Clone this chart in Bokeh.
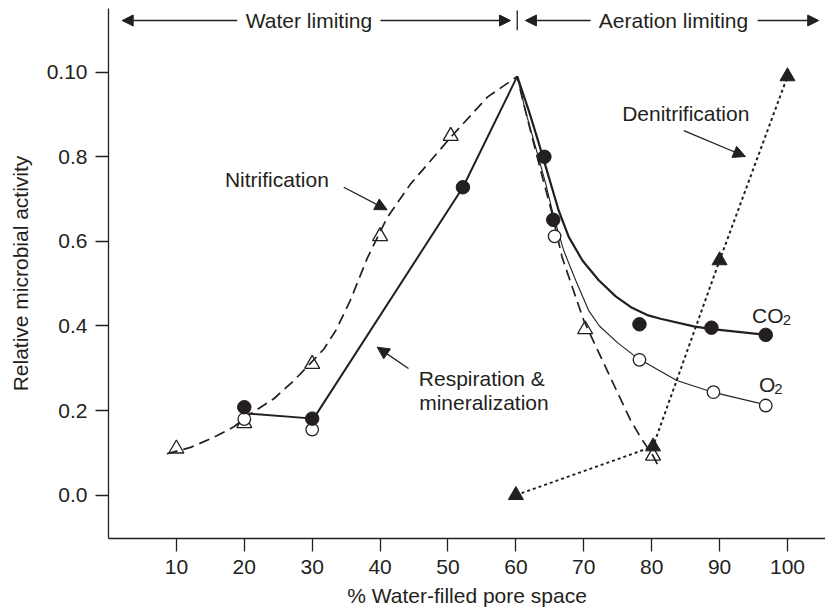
from bokeh.plotting import figure
from bokeh.models import Range1d, FixedTicker, Label, Arrow, NormalHead
from bokeh.embed import file_html
from bokeh.resources import INLINE

FONT = "Liberation Sans"
INK = "#231f20"

# ---- axis ticks ----
x_ticks = [10, 20, 30, 40, 50, 60, 70, 80, 90, 100]
x_tick_labels = ["10", "20", "30", "40", "50", "60", "70", "80", "90", "100"]
y_ticks = [0.0, 0.2, 0.4, 0.6, 0.8, 1.0]
y_tick_labels = ["0.0", "0.2", "0.4", "0.6", "0.8", "0.10"]

# ---- Nitrification (open triangles, dashed curve) ----
nitr_x = [10, 20, 30, 40, 50.4, 70.2, 80.2]
nitr_y = [0.11, 0.17, 0.31, 0.612, 0.849, 0.392, 0.093]
nitr_curve_x = [8.6, 12.1, 15.5, 18.4, 20.9, 24.35, 27.3, 29.7, 31.7, 33.5, 35.6, 38.1,
                41.0, 44.5, 50.4, 55.8, 60.2, 60.9, 62.4, 63.9, 65.35, 66.8, 68.3, 70.0,
                73.9, 76.9, 78.35, 80.2, 81.2]
nitr_curve_y = [0.098, 0.113, 0.137, 0.161, 0.192, 0.228, 0.271, 0.311, 0.345, 0.39, 0.46, 0.56,
                0.655, 0.736, 0.846, 0.941, 0.99, 0.941, 0.846, 0.752, 0.665, 0.563, 0.492, 0.413,
                0.279, 0.177, 0.137, 0.093, 0.062]

# ---- Respiration & mineralization (filled circles, solid line) ----
resp_x = [20, 30, 52.2]
resp_y = [0.208, 0.181, 0.728]
resp_line_x = [20.6, 30.2, 52.2, 60.2]
resp_line_y = [0.193, 0.181, 0.728, 0.99]

# ---- CO2 (filled circles, thick curve) ----
co2_x = [64.2, 65.5, 78.2, 88.8, 96.8]
co2_y = [0.80, 0.651, 0.404, 0.396, 0.379]
co2_curve_x = [60.2, 61.9, 63.4, 64.85, 66.3, 67.8, 69.8, 72.2, 74.7, 77.1, 79.5, 81.3,
               86.2, 88.6, 96.8]
co2_curve_y = [0.99, 0.909, 0.831, 0.752, 0.673, 0.61, 0.555, 0.508, 0.47, 0.443, 0.425, 0.417,
               0.399, 0.393, 0.379]

# ---- O2 (open circles, thin curve) ----
o2_x = [20, 30, 65.7, 78.2, 89.1, 96.8]
o2_y = [0.18, 0.155, 0.612, 0.32, 0.2435, 0.212]
o2_curve_x = [60.2, 61.4, 62.9, 64.4, 65.6, 67.05, 68.8, 70.7, 72.3, 75.0, 78.0, 83.7,
              89.1, 96.7]
o2_curve_y = [0.99, 0.909, 0.823, 0.736, 0.657, 0.578, 0.508, 0.437, 0.40, 0.36, 0.323, 0.271,
              0.243, 0.214]

# ---- Denitrification (filled triangles, dotted line) ----
denit_x = [60, 80.2, 90, 100]
denit_y = [0.0, 0.115, 0.555, 0.99]

p = figure(width=825, height=610,
           x_range=Range1d(0, 105.6), y_range=Range1d(-0.1024, 1.1506),
           output_backend="svg", toolbar_location=None)
p.min_border = 0
p.min_border_left = 108
p.min_border_right = 0
p.min_border_top = 8
p.min_border_bottom = 72
p.outline_line_color = None
p.xgrid.visible = False
p.ygrid.visible = False
p.background_fill_color = "white"
p.border_fill_color = "white"

for ax in (p.xaxis[0], p.yaxis[0]):
    ax.axis_line_color = INK
    ax.axis_line_width = 1.3
    ax.major_tick_line_color = INK
    ax.major_tick_line_width = 1.3
    ax.major_tick_out = 13
    ax.major_tick_in = 0
    ax.minor_tick_line_color = None
    ax.major_label_text_font = FONT
    ax.major_label_text_font_size = "21px"
    ax.major_label_text_color = INK
    ax.axis_label_text_font = FONT
    ax.axis_label_text_font_size = "21px"
    ax.axis_label_text_font_style = "normal"
    ax.axis_label_text_color = INK

p.xaxis.ticker = FixedTicker(ticks=x_ticks)
p.xaxis.major_label_overrides = {t: s for t, s in zip(x_ticks, x_tick_labels)}
p.xaxis.major_label_standoff = 8
p.xaxis.axis_label = "% Water-filled pore space"
p.xaxis.axis_label_standoff = 7
p.yaxis.ticker = FixedTicker(ticks=y_ticks)
p.yaxis.major_label_overrides = {t: s for t, s in zip(y_ticks, y_tick_labels)}
p.yaxis.major_label_standoff = 8
p.yaxis.axis_label = "Relative microbial activity"
p.yaxis.axis_label_standoff = 12

# lines
p.line(nitr_curve_x, nitr_curve_y, line_color=INK, line_width=1.7, line_dash="11 6")
p.line(resp_line_x, resp_line_y, line_color=INK, line_width=2)
p.line(co2_curve_x, co2_curve_y, line_color=INK, line_width=2.2)
p.line(o2_curve_x, o2_curve_y, line_color=INK, line_width=1.1)
p.line(denit_x, denit_y, line_color=INK, line_width=2, line_dash="3 3")

# markers
p.scatter(nitr_x, nitr_y, marker="triangle", size=15, fill_color=None,
          line_color=INK, line_width=1.3)
p.scatter(o2_x, o2_y, marker="circle", size=12.5, fill_color="white",
          line_color=INK, line_width=1.3)
p.scatter(resp_x, resp_y, marker="circle", size=13.5, fill_color=INK, line_color=INK)
p.scatter(co2_x, co2_y, marker="circle", size=13.5, fill_color=INK, line_color=INK)
p.scatter(denit_x, denit_y, marker="triangle", size=15, fill_color=INK, line_color=INK)

DY = 8 / 423.0  # baseline correction (8 px)


def lab(x, y, text, size="21px", align="left"):
    p.add_layout(Label(x=x, y=y + DY, text=text, text_font=FONT, text_font_size=size,
                       text_color=INK, text_align=align, text_baseline="alphabetic"))


def arr(x0, y0, x1, y1, size=12, width=1.3):
    p.add_layout(Arrow(end=NormalHead(size=size, fill_color=INK, line_color=INK, line_width=1),
                       x_start=x0, y_start=y0, x_end=x1, y_end=y1,
                       line_color=INK, line_width=width))


# top region
ya = 1.1222
lab(29.53, 1.1026, "Water limiting", align="center")
lab(83.21, 1.1026, "Aeration limiting", align="center")
arr(18.95, ya, 2.02, ya, size=11)
arr(40.06, ya, 59.2, ya, size=11)
arr(71.0, ya, 61.4, ya, size=11)
arr(95.6, ya, 104.6, ya, size=11)
p.segment(x0=[60.2], y0=[1.099], x1=[60.2], y1=[1.146], line_color=INK, line_width=1.3)

# curve labels
lab(17.15, 0.728, "Nitrification")
arr(34.65, 0.728, 41.04, 0.6747)
lab(75.65, 0.884, "Denitrification")
arr(84.73, 0.862, 93.8, 0.8007)
lab(45.7, 0.257, "Respiration &")
lab(45.75, 0.2002, "mineralization")
arr(44.18, 0.2995, 39.57, 0.35)
lab(94.79, 0.4052, "CO")
lab(99.3, 0.3957, "2", size="15px")
lab(95.8, 0.2435, "O")
lab(98.05, 0.2317, "2", size="15px")

open("out.html", "w").write(file_html(p, INLINE))
